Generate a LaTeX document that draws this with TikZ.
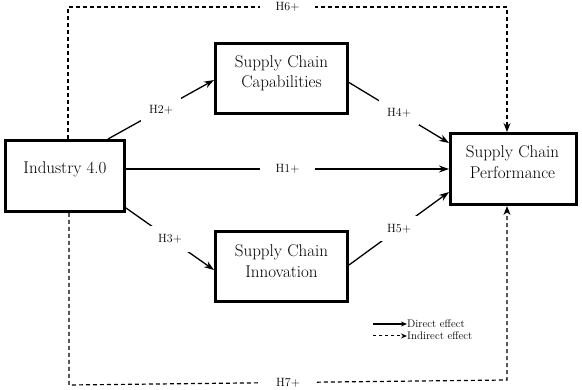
\documentclass[tikz,border=0pt]{standalone}
\usetikzlibrary{arrows.meta,calc}
\begin{document}
\begin{tikzpicture}[x=1pt,y=-1pt,
  box/.style={draw, line width=3.2pt, inner sep=0pt},
  boxtext/.style={align=center, inner sep=0pt, font=\fontsize{17}{20.5}\selectfont},
  hyp/.style={fill=white, font=\fontsize{12}{14}\selectfont, inner sep=8pt},
  hyph/.style={fill=white, font=\fontsize{12}{14}\selectfont, inner xsep=16pt, inner ysep=3pt},
  direct/.style={line width=1.3pt, -{Stealth[length=10pt,width=7pt]}},
  indirect/.style={line width=1.2pt, dash pattern=on 4pt off 3pt, -{Stealth[length=9pt,width=7pt]}},
  legtext/.style={anchor=west, inner sep=0pt, font=\fontsize{11}{12}\selectfont},
]
\useasboundingbox (0,0) rectangle (582,390);

% boxes
\node[box, minimum width=118.8pt, minimum height=70.8pt] (ind) at (65,176) {};
\node[box, minimum width=131.8pt, minimum height=69.8pt] (cap) at (281.5,78.5) {};
\node[box, minimum width=131.8pt, minimum height=69.8pt] (inn) at (281.5,266.5) {};
\node[box, minimum width=125.8pt, minimum height=70.8pt] (perf) at (513.5,169) {};

% box texts
\node[boxtext] (indt) at (65,169) {Industry 4.0};
\node[boxtext] (capt) at (281.5,73) {Supply Chain\\Capabilities};
\node[boxtext] (innt) at (281.5,261) {Supply Chain\\Innovation};
\node[boxtext] (perft) at (512.5,162) {Supply Chain\\Performance};

% direct effects
\draw[direct] ($(ind.north east)+(-18,0)$) -- node[hyp] {H2+} ($(cap.west)+(0,1.5)$);
\draw[direct] ($(cap.east)+(0,4)$) -- node[hyp] {H4+} ($(perf.north west)+(0,11)$);
\draw[direct] ($(ind.east)+(0,-7)$) -- node[hyph] {H1+} (perf.west);
\draw[direct] ($(ind.south east)+(0,-5)$) -- node[hyp] {H3+} ($(inn.west)+(0,3.5)$);
\draw[direct] ($(inn.east)+(0,-1.5)$) -- node[hyp] {H5+} ($(perf.south west)+(0,-14)$);

% indirect effects
\coordinate (tl) at (68,7);
\coordinate (tr) at (507,7);
\coordinate (bl) at (69,385);
\coordinate (br) at (507,380);
\draw[indirect] (tl |- ind.north) -- (tl) -- node[hyph] {H6+} (tr) -- (tr |- perf.north);
\draw[indirect] (bl |- ind.south) -- (bl) -- node[hyph] {H7+} (br) -- (br |- perf.south);

% legend
\node[legtext] (dlab) at (407,324) {Direct effect};
\node[legtext] (ilab) at (407,336) {Indirect effect};
\coordinate (ds) at (373,324);
\coordinate (is) at (373,336);
\draw[line width=1.2pt, -{Stealth[length=6pt,width=5pt]}] (ds) -- (dlab.west);
\draw[line width=1pt, dash pattern=on 3pt off 3pt, -{Stealth[length=6pt,width=5pt]}] (is) -- (ilab.west);
\end{tikzpicture}
\end{document}
